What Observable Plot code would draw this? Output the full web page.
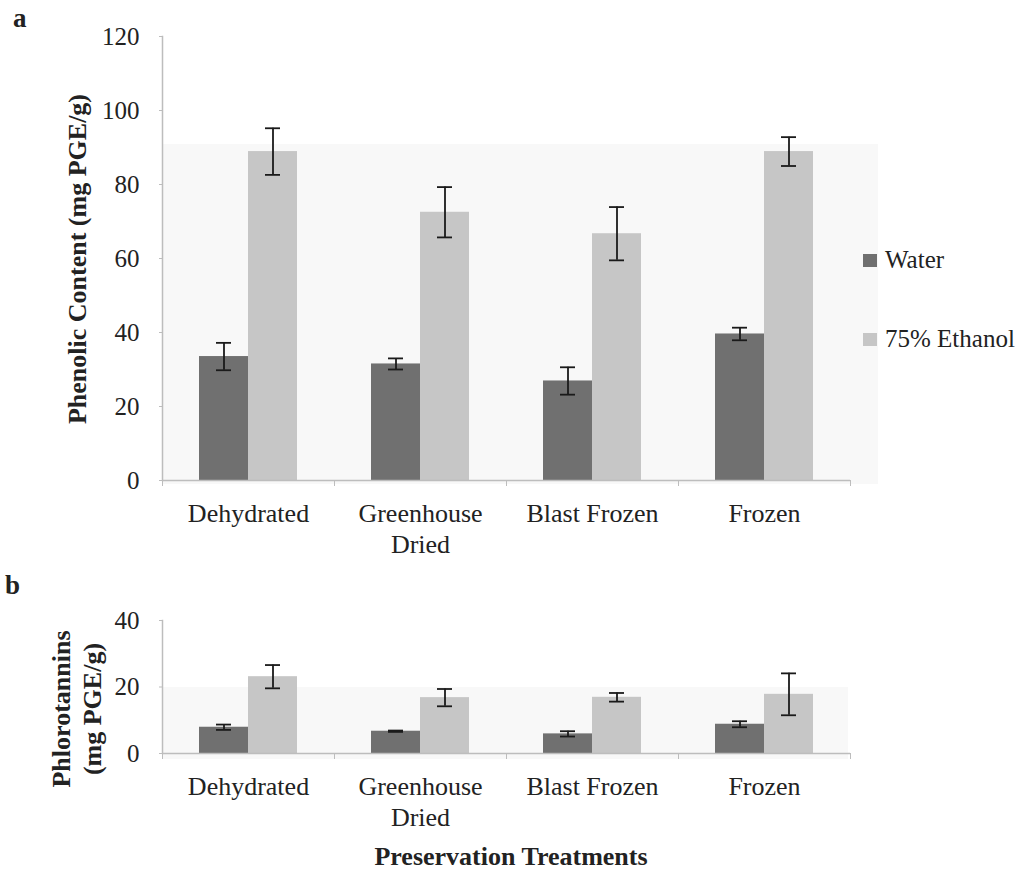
<!DOCTYPE html>
<html><head><meta charset="utf-8">
<script src="https://cdn.jsdelivr.net/npm/d3@7"></script>
<script src="https://cdn.jsdelivr.net/npm/@observablehq/plot@0.6"></script>
<style>
body{margin:0;background:#fff;font-family:"Liberation Serif","Times New Roman",serif;color:#222;}
#wrap{position:relative;width:1034px;height:872px;overflow:hidden;}
.abs{position:absolute;}
.panel-letter{font-weight:bold;font-size:27px;line-height:30px;}
.ytitle{position:absolute;font-weight:bold;font-size:26px;white-space:nowrap;text-align:center;transform:translate(-50%,-50%) rotate(-90deg);}
.legend{position:absolute;left:863px;font-size:25px;display:flex;align-items:center;white-space:nowrap;}
.legend span.sw{display:inline-block;width:14px;height:13px;margin-right:8px;}
.shade{position:absolute;background:#f8f8f8;}
#top,#bottom{position:absolute;left:0;}
</style></head><body><div id="wrap">
<div class="shade" style="left:162px;top:144px;width:716px;height:340px"></div>
<div class="shade" style="left:162px;top:687px;width:686px;height:72px"></div>
<div id="top" style="top:0"></div>
<div id="bottom" style="top:580px"></div>
<div class="abs panel-letter" style="left:13px;top:3px">a</div>
<div class="abs panel-letter" style="left:5px;top:570px">b</div>
<div class="ytitle" style="left:78px;top:259px">Phenolic Content (mg PGE/g)</div>
<div class="ytitle" style="left:77px;top:709px;line-height:31px">Phlorotannins<br>(mg PGE/g)</div>
<div class="abs" style="left:0;width:1022px;top:842px;text-align:center;font-weight:bold;font-size:26px">Preservation Treatments</div>
<div id="legend"></div>
</div>
<script>
const categories = ["Dehydrated", "Greenhouse\nDried", "Blast Frozen", "Frozen"];
const series = ["Water", "75% Ethanol"];
const seriesColors = ["#707070", "#c6c6c6"];

// Panel a: phenolic content (mg PGE/g)
const phenolicWater = [33.5, 31.5, 26.9, 39.6];
const phenolicWaterErr = [3.7, 1.5, 3.7, 1.7];
const phenolicEthanol = [88.9, 72.5, 66.7, 88.9];
const phenolicEthanolErr = [6.3, 6.8, 7.2, 3.9];
const phenolicTicks = [0, 20, 40, 60, 80, 100, 120];

// Panel b: phlorotannins (mg PGE/g)
const phloroWater = [7.9, 6.7, 5.9, 8.8];
const phloroWaterErr = [0.8, 0.2, 0.8, 0.9];
const phloroEthanol = [23.1, 16.8, 16.9, 17.8];
const phloroEthanolErr = [3.5, 2.6, 1.3, 6.3];
const phloroTicks = [0, 20, 40];

function table(w, we, e, ee) {
  const rows = [];
  categories.forEach((c, i) => {
    rows.push({cat: c, series: series[0], value: w[i], err: we[i]});
    rows.push({cat: c, series: series[1], value: e[i], err: ee[i]});
  });
  return rows;
}

const axisGray = "#bdbdbd";
function panel(rows, ticks, height, marginTop, marginBottom) {
  const yMax = ticks[ticks.length - 1];
  return Plot.plot({
    width: 1034, height, marginLeft: 162, marginRight: 184, marginTop, marginBottom,
    style: {background: "transparent", fontFamily: "'Liberation Serif', serif", fontSize: "25px", color: "#222", overflow: "visible"},
    fx: {domain: categories, padding: 0, axis: null, label: null},
    x: {domain: series, paddingInner: 0, paddingOuter: 0.74, axis: null, label: null},
    y: {domain: [0, yMax], axis: null, label: null},
    color: {domain: series, range: seriesColors},
    marks: [
      Plot.barY(rows, {fx: "cat", x: "series", y: "value", fill: "series"}),
      Plot.ruleY([0], {stroke: axisGray, strokeWidth: 1.5}),
      Plot.ruleX(rows, {fx: "cat", x: "series", y1: d => d.value - d.err, y2: d => d.value + d.err, stroke: "#1a1a1a", strokeWidth: 1.8}),
      Plot.tickY(rows, {fx: "cat", x: "series", y: d => d.value + d.err, stroke: "#1a1a1a", strokeWidth: 1.8, insetLeft: 17, insetRight: 17}),
      Plot.tickY(rows, {fx: "cat", x: "series", y: d => d.value - d.err, stroke: "#1a1a1a", strokeWidth: 1.8, insetLeft: 17, insetRight: 17}),
      Plot.axisY({anchor: "left", ticks, tickSize: 3, tickPadding: 20, stroke: axisGray, fontSize: 25, label: null}),
      Plot.frame({anchor: "left", stroke: axisGray, strokeWidth: 1.5, facetAnchor: "left"}),
      Plot.axisFx({anchor: "bottom", tickSize: 0, tickPadding: 19, lineHeight: 1.2, fontSize: 26, label: null}),
      Plot.axisFx({anchor: "bottom", tickSize: 6, dx: -86, stroke: axisGray, tickFormat: () => "", label: null}),
      Plot.axisFx({anchor: "bottom", ticks: [categories[3]], tickSize: 6, dx: 86, stroke: axisGray, tickFormat: () => "", label: null})
    ]
  });
}

document.getElementById("top").append(
  panel(table(phenolicWater, phenolicWaterErr, phenolicEthanol, phenolicEthanolErr), phenolicTicks, 560, 36, 80)
);
document.getElementById("bottom").append(
  panel(table(phloroWater, phloroWaterErr, phloroEthanol, phloroEthanolErr), phloroTicks, 292, 40, 119)
);

const legendTops = [246, 325];
series.forEach((s, i) => {
  const d = document.createElement("div");
  d.className = "legend";
  d.style.top = legendTops[i] + "px";
  d.innerHTML = `<span class="sw" style="background:${seriesColors[i]}"></span>${s}`;
  document.getElementById("legend").append(d);
});
</script>
</body></html>
